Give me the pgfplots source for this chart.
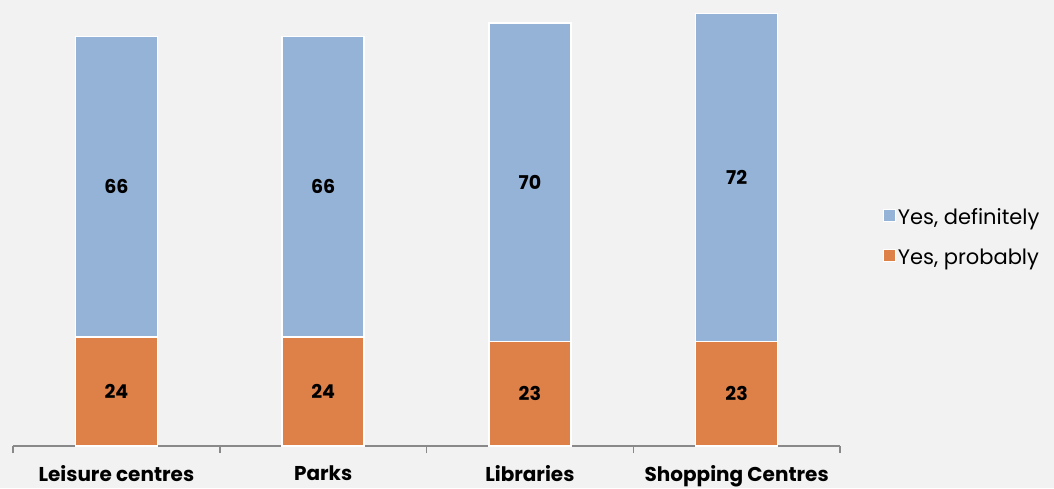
\documentclass[border=0pt]{standalone}
\usepackage{pgfplots}
\pgfplotsset{compat=1.18}
\usepackage{fontspec}
\setmainfont{Poppins}
\definecolor{bgc}{HTML}{F2F2F2}
\definecolor{cblue}{HTML}{95B3D7}
\definecolor{corange}{HTML}{DE8149}
\definecolor{axgray}{HTML}{898989}
\begin{document}
\begin{tikzpicture}[x=1pt,y=1pt]
\fill[bgc] (0,0) rectangle (1054,488);
\useasboundingbox (0,0) rectangle (1054,488);
\begin{axis}[
  at={(13pt,42pt)}, anchor=south west,
  scale only axis, width=827pt, height=446pt,
  ybar stacked, bar width=82pt,
  ymin=0, ymax=98, xmin=-0.5, xmax=3.5,
  hide y axis,
  axis x line=bottom,
  axis line style={axgray, line width=1.5pt, -},
  xtick={0,1,2,3},
  xticklabels={Leisure centres, Parks, Libraries, Shopping Centres},
  major tick length=0pt,
  minor xtick={-0.5,0.5,1.5,2.5,3.5},
  minor tick length=7pt,
  tick align=outside,
  minor tick style={axgray, line width=1.5pt},
  xticklabel style={font=\fontsize{20}{24}\selectfont\bfseries, yshift=-16pt},
  /pgf/number format/assume math mode=true,
  nodes near coords,
  every node near coord/.append style={font=\fontsize{19}{23}\selectfont\bfseries, black, anchor=center},
  reverse legend,
  legend cell align=left,
  legend style={draw=none, fill=none, at={(1.048,0.468)}, anchor=west,
    font=\fontsize{21}{25}\selectfont, row sep=19pt},
  legend image code/.code={\fill[#1,draw=white,line width=1pt] (0pt,-4pt) rectangle (12pt,8pt);},
]
\addplot[fill=corange, draw=white, line width=1.5pt] coordinates {(0,24) (1,24) (2,23) (3,23)};
\addlegendentry{Yes, probably}
\addplot[fill=cblue, draw=white, line width=1.5pt] coordinates {(0,66) (1,66) (2,70) (3,72)};
\addlegendentry{Yes, definitely}
\end{axis}
\end{tikzpicture}
\end{document}
